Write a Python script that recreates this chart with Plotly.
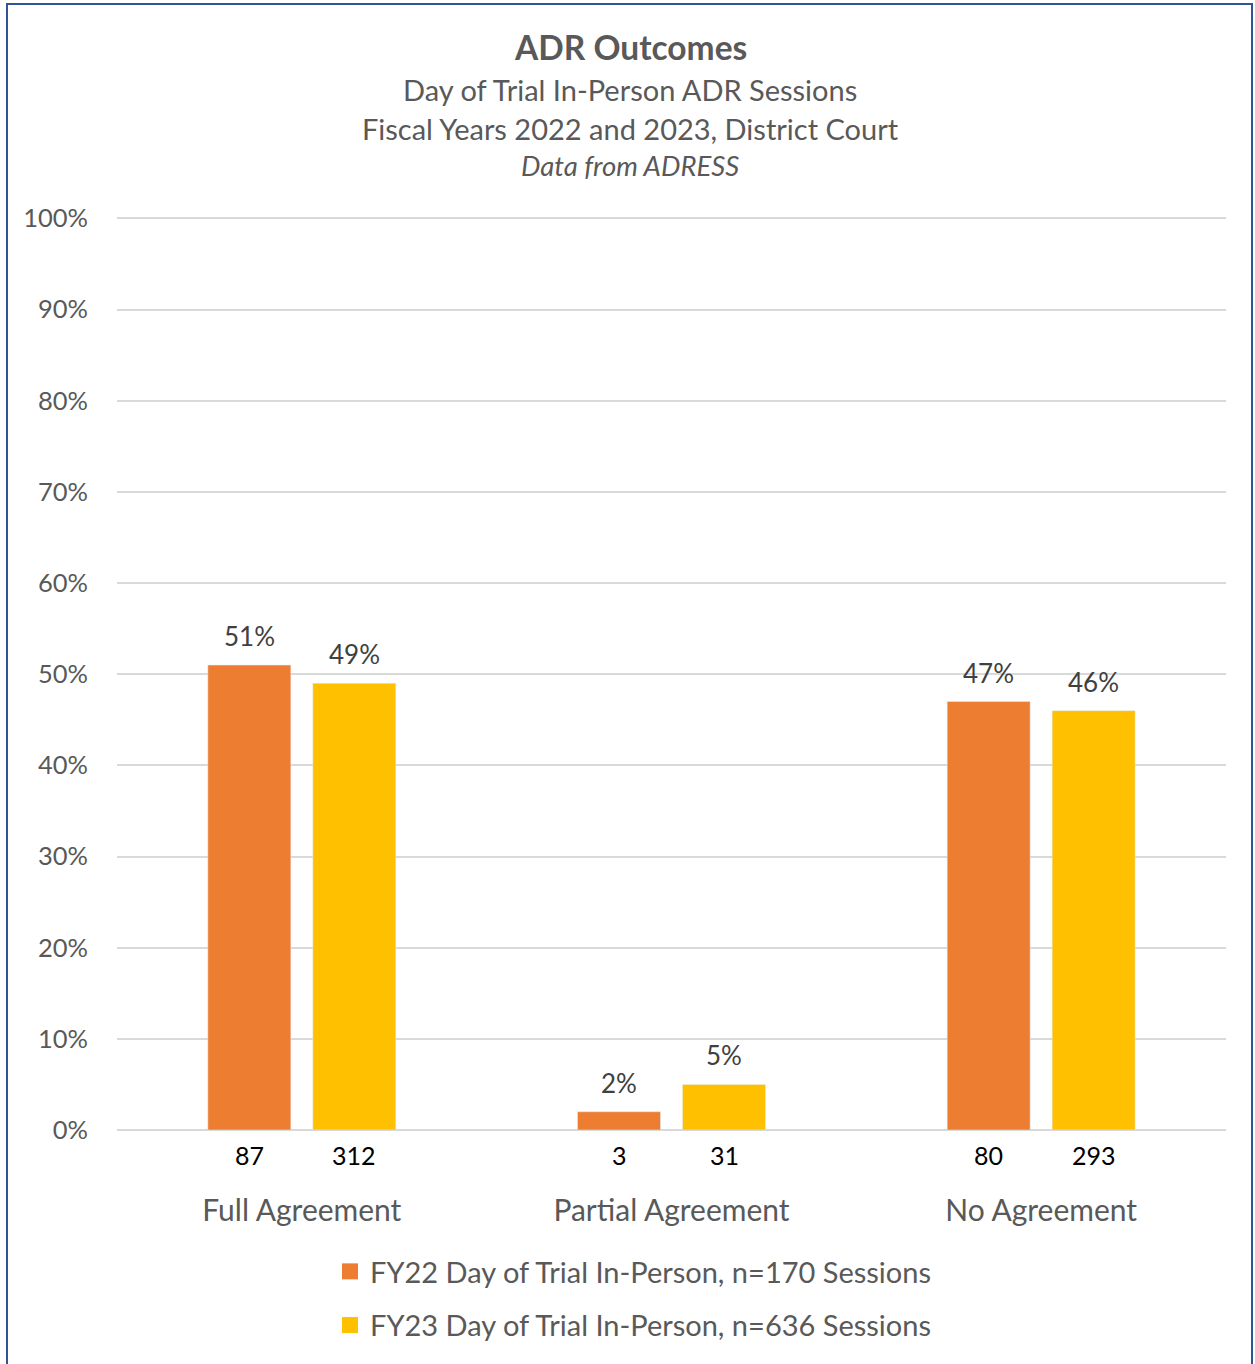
import plotly.graph_objects as go

# Outcome categories and series
categories = ["Full Agreement", "Partial Agreement", "No Agreement"]
fy22_pct = [51, 2, 47]
fy23_pct = [49, 5, 46]
fy22_counts = [87, 3, 80]
fy23_counts = [312, 31, 293]
series_names = [
    "FY22 Day of Trial In-Person, n=170 Sessions",
    "FY23 Day of Trial In-Person, n=636 Sessions",
]
series_colors = ["#ED7D31", "#FFC000"]
y_ticks = list(range(0, 101, 10))

FONT = "Lato"
W, H = 1255, 1364
ML, MR, MT, MB = 117, 29, 217, 234
PW, PH = W - ML - MR, H - MT - MB
BAR_OFFSET = 52.5  # px from category centre to each bar centre


def px_x(x):
    return (x - ML) / PW


def px_y(y):
    return (H - MB - y) / PH


fig = go.Figure()
for name, vals, color in zip(series_names, (fy22_pct, fy23_pct), series_colors):
    fig.add_trace(go.Bar(
        x=categories, y=vals, name=name,
        marker=dict(color=color), showlegend=False,
    ))
# Square legend keys
for i, (name, color) in enumerate(zip(series_names, series_colors)):
    fig.add_trace(go.Scatter(
        x=[None], y=[None], mode="markers", name=name,
        marker=dict(symbol="square", size=17, color=color),
        legendgroup=f"g{i}", showlegend=True,
    ))

annotations = []
# Percentage labels above each bar
for cat, v22, v23 in zip(categories, fy22_pct, fy23_pct):
    for v, sh in ((v22, -BAR_OFFSET), (v23, BAR_OFFSET)):
        annotations.append(dict(
            x=cat, xref="x", y=v, yref="y", xshift=sh, yshift=29,
            text=f"{v}%", showarrow=False, yanchor="middle",
            font=dict(family=FONT, size=26, color="#404040"),
        ))

# Session counts beneath each bar
for cat, c22, c23 in zip(categories, fy22_counts, fy23_counts):
    for cnt, sh in ((c22, -BAR_OFFSET), (c23, BAR_OFFSET)):
        annotations.append(dict(
            x=cat, xref="x", y=0, yref="y", xshift=sh, yshift=-25,
            text=str(cnt), showarrow=False, yanchor="middle",
            font=dict(family=FONT, size=25, color="#000000"),
        ))

# Title block
title_lines = [
    ("<b>ADR Outcomes</b>", 47, 33.5),
    ("Day of Trial In-Person ADR Sessions", 90, 29),
    ("Fiscal Years 2022 and 2023, District Court", 129, 29),
    ("<i>Data from ADRESS</i>", 165, 27.5),
]
for txt, ypix, size in title_lines:
    annotations.append(dict(
        x=px_x(630), xref="paper", y=px_y(ypix), yref="paper",
        text=txt, showarrow=False, xanchor="center", yanchor="middle",
        font=dict(family=FONT, size=size, color="#595959"),
    ))

fig.update_layout(
    width=W, height=H,
    margin=dict(l=ML, r=MR, t=MT, b=MB, autoexpand=False),
    paper_bgcolor="white", plot_bgcolor="white",
    barmode="group", bargap=0.432, bargroupgap=0.2095,
    showlegend=True,
    legend=dict(
        x=px_x(330), y=px_y(1246), xanchor="left", yanchor="top",
        orientation="v", tracegroupgap=13,
        font=dict(family=FONT, size=29, color="#595959"),
    ),
    annotations=annotations,
    shapes=[dict(
        type="rect", xref="paper", yref="paper",
        x0=px_x(7), x1=px_x(1252), y0=px_y(1370), y1=px_y(4),
        line=dict(color="#2F5597", width=2), fillcolor="rgba(0,0,0,0)",
        layer="below",
    )],
)
fig.update_xaxes(
    showgrid=False, showline=False, ticks="",
    tickfont=dict(family=FONT, size=30, color="#595959"),
    ticklabelstandoff=60,
)
fig.update_yaxes(
    range=[0, 100.15], tickvals=y_ticks, ticktext=[f"{v}%" for v in y_ticks],
    showgrid=True, gridcolor="#D9D9D9", gridwidth=1.5,
    zeroline=True, zerolinecolor="#D9D9D9", zerolinewidth=1.5,
    showline=False, ticks="",
    tickfont=dict(family=FONT, size=25.5, color="#595959"),
    ticklabelstandoff=28,
)

fig.write_html("out.html")
